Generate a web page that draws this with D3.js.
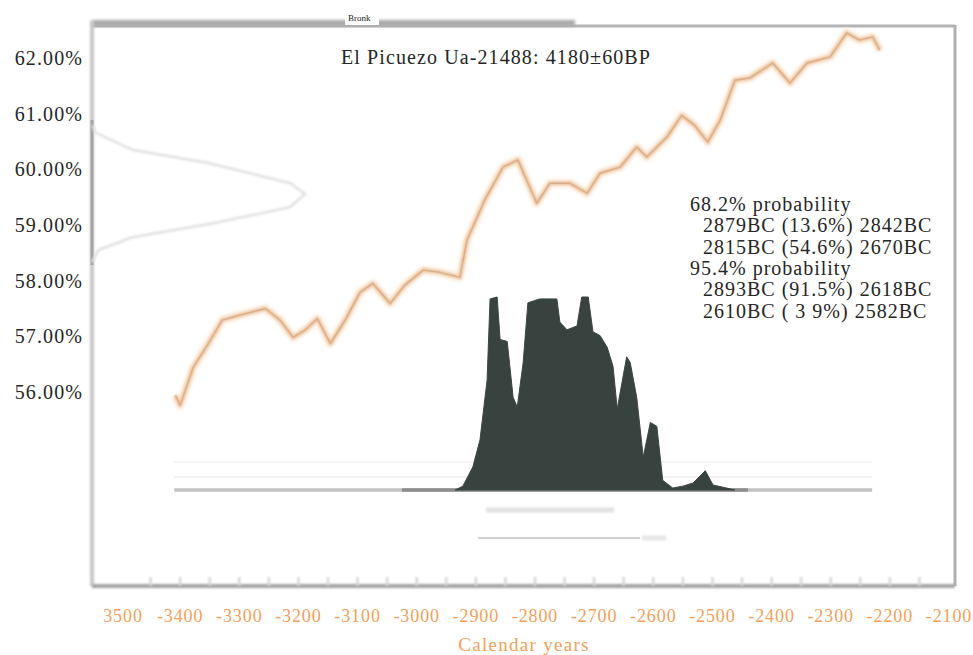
<!DOCTYPE html>
<html><head><meta charset="utf-8">
<script src="https://cdn.jsdelivr.net/npm/d3@7/dist/d3.min.js"></script>
<style>html,body{margin:0;padding:0;background:#fff;}svg{display:block;}</style>
</head><body>
<svg id="chart" width="973" height="655"></svg>
<script>
// ---- data ----
const titleText = "El Picuezo Ua-21488: 4180\u00b160BP";
const yTickValues = [62, 61, 60, 59, 58, 57, 56];
const yTickLabels = ["62.00%", "61.00%", "60.00%", "59.00%", "58.00%", "57.00%", "56.00%"];
const xTickValues = [-3500, -3400, -3300, -3200, -3100, -3000, -2900, -2800, -2700, -2600, -2500, -2400, -2300, -2200, -2100];
const xTickLabels = ["3500", "-3400", "-3300", "-3200", "-3100", "-3000", "-2900", "-2800", "-2700", "-2600", "-2500", "-2400", "-2300", "-2200", "-2100"];
const xAxisTitle = "Calendar years";
const curveYears = [-3408, -3400, -3378, -3354, -3329, -3299, -3256, -3231, -3209, -3189, -3168, -3146, -3121, -3096, -3074, -3045, -3020, -2989, -2961, -2927, -2915, -2885, -2854, -2829, -2797, -2775, -2741, -2712, -2690, -2656, -2628, -2611, -2577, -2552, -2530, -2508, -2487, -2462, -2437, -2398, -2369, -2340, -2301, -2273, -2251, -2229, -2217];
const curveValues = [55.94, 55.76, 56.44, 56.84, 57.29, 57.38, 57.50, 57.29, 56.98, 57.11, 57.32, 56.87, 57.29, 57.79, 57.95, 57.59, 57.92, 58.19, 58.15, 58.06, 58.73, 59.45, 60.04, 60.17, 59.39, 59.75, 59.75, 59.57, 59.93, 60.04, 60.40, 60.22, 60.58, 60.97, 60.79, 60.49, 60.88, 61.60, 61.64, 61.91, 61.55, 61.91, 62.02, 62.45, 62.32, 62.38, 62.14];
const probYears = [-2935, -2922, -2905, -2893, -2881, -2876, -2864, -2859, -2847, -2837, -2830, -2820, -2812, -2792, -2763, -2758, -2746, -2729, -2721, -2710, -2702, -2690, -2678, -2668, -2661, -2645, -2639, -2628, -2617, -2605, -2594, -2584, -2567, -2550, -2533, -2512, -2499, -2476, -2462];
const probValues = [0, 0.02, 0.12, 0.26, 0.57, 0.99, 1.0, 0.78, 0.77, 0.48, 0.43, 0.66, 0.97, 0.99, 0.99, 0.87, 0.83, 0.85, 1.0, 1.0, 0.82, 0.80, 0.74, 0.64, 0.42, 0.69, 0.66, 0.48, 0.17, 0.35, 0.33, 0.05, 0.01, 0.02, 0.036, 0.10, 0.026, 0.01, 0];
const bpLevels = [60.79, 60.65, 60.35, 60.11, 59.75, 59.56, 59.32, 59.03, 58.78, 58.55, 58.33];
const bpDensity = [0, 0.02, 0.19, 0.55, 0.93, 1.0, 0.93, 0.57, 0.19, 0.03, 0];
const rangeLines = ["68.2% probability", "  2879BC (13.6%) 2842BC", "  2815BC (54.6%) 2670BC", "95.4% probability", "  2893BC (91.5%) 2618BC", "  2610BC ( 3 9%) 2582BC"];
const headerNote = "Bronk";

// ---- drawing ----
const svg = d3.select("#chart");
const serif = "'Liberation Serif','DejaVu Serif',serif";
const orange = "#f4a058";
const ink = "#262626";
const frame = {left: 92, top: 21, right: 955, bottom: 586};

const x = d3.scaleLinear().domain([-3500, -2100]).range([121, 949]);
const y = d3.scaleLinear().domain([56, 62]).range([392, 58]);
const yp = d3.scaleLinear().domain([0, 1]).range([490, 297]);
const xd = d3.scaleLinear().domain([0, 1]).range([frame.left, 305]);

const defs = svg.append("defs");
function blur(id, s) {
  defs.append("filter").attr("id", id).attr("filterUnits", "userSpaceOnUse")
    .attr("x", 0).attr("y", 0).attr("width", 973).attr("height", 655)
    .append("feGaussianBlur").attr("stdDeviation", s);
}
blur("soft", 0.9);
blur("soft2", 1.6);

// frame
svg.append("line").attr("x1", frame.left).attr("x2", frame.right).attr("y1", frame.top + 5).attr("y2", frame.top + 5)
  .attr("stroke", "#b4b4b4").attr("stroke-width", 3);
svg.append("line").attr("x1", frame.left).attr("x2", 575).attr("y1", frame.top + 2).attr("y2", frame.top + 2)
  .attr("stroke", "#a8a8a8").attr("stroke-width", 6).attr("filter", "url(#soft2)");
svg.append("line").attr("x1", frame.left).attr("x2", frame.left).attr("y1", frame.top).attr("y2", frame.bottom)
  .attr("stroke", "#c8c8c8").attr("stroke-width", 4).attr("filter", "url(#soft)");
svg.append("line").attr("x1", frame.left).attr("x2", frame.left).attr("y1", 120).attr("y2", 265)
  .attr("stroke", "#a4a4a4").attr("stroke-width", 3);
svg.append("line").attr("x1", frame.right).attr("x2", frame.right).attr("y1", frame.top + 4).attr("y2", frame.bottom)
  .attr("stroke", "#b0b0b0").attr("stroke-width", 3);
svg.append("line").attr("x1", frame.left).attr("x2", frame.right).attr("y1", frame.bottom).attr("y2", frame.bottom)
  .attr("stroke", "#a4a4a4").attr("stroke-width", 4).attr("filter", "url(#soft)");

// bottom minor ticks
const minor = d3.range(-3450, -2100, 50);
svg.append("g").selectAll("line").data(minor).join("line")
  .attr("x1", d => x(d)).attr("x2", d => x(d)).attr("y1", frame.bottom - 9).attr("y2", frame.bottom)
  .attr("stroke", "#d6d6d6").attr("stroke-width", 2.5).attr("filter", "url(#soft)");

// header note
svg.append("rect").attr("x", 345).attr("y", 13).attr("width", 34).attr("height", 12).attr("fill", "#fff");
svg.append("text").attr("x", 348).attr("y", 21).attr("font-family", serif).attr("font-size", 9).attr("fill", "#222").text(headerNote);

// BP distribution on y axis
const bpLine = d3.line().x(d => xd(d[1])).y(d => y(d[0])).curve(d3.curveLinear);
svg.append("path").datum(d3.zip(bpLevels, bpDensity)).attr("d", bpLine)
  .attr("fill", "none").attr("stroke", "#e0e0e0").attr("stroke-width", 2.5).attr("filter", "url(#soft)");

// calibration curve
const cLine = d3.line().x(d => x(d[0])).y(d => y(d[1])).curve(d3.curveLinear);
const cData = d3.zip(curveYears, curveValues);
svg.append("path").datum(cData).attr("d", cLine).attr("fill", "none")
  .attr("stroke", "#fdeee0").attr("stroke-width", 9).attr("stroke-linejoin", "round").attr("filter", "url(#soft2)");
svg.append("path").datum(cData).attr("d", cLine).attr("fill", "none")
  .attr("stroke", "#ebc4a0").attr("stroke-width", 4).attr("stroke-linejoin", "round").attr("filter", "url(#soft)");
svg.append("path").datum(cData).attr("d", cLine).attr("fill", "none")
  .attr("stroke", "#d4a580").attr("stroke-width", 1.4).attr("stroke-linejoin", "round").attr("opacity", 0.7);

// baseline lines
svg.append("line").attr("x1", x(-3410)).attr("x2", x(-2230)).attr("y1", 462).attr("y2", 462).attr("stroke", "#f4f4f4").attr("stroke-width", 2);
svg.append("line").attr("x1", x(-3410)).attr("x2", x(-2230)).attr("y1", 477).attr("y2", 477).attr("stroke", "#f2f2f2").attr("stroke-width", 2);
svg.append("line").attr("x1", x(-3410)).attr("x2", x(-2230)).attr("y1", 490).attr("y2", 490).attr("stroke", "#c2c2c2").attr("stroke-width", 3.5);
svg.append("line").attr("x1", x(-3025)).attr("x2", x(-2440)).attr("y1", 490).attr("y2", 490).attr("stroke", "#8e8e8e").attr("stroke-width", 3.5);

// posterior distribution
const area = d3.area().x(d => x(d[0])).y0(yp(0)).y1(d => yp(d[1])).curve(d3.curveLinear);
svg.append("path").datum(d3.zip(probYears, probValues)).attr("d", area)
  .attr("fill", "#38423f").attr("stroke", "#3b4541").attr("stroke-width", 1);

// faint range bars below
svg.append("line").attr("x1", 486).attr("x2", 614).attr("y1", 510).attr("y2", 510).attr("stroke", "#e2e2e2").attr("stroke-width", 5).attr("filter", "url(#soft)");
svg.append("line").attr("x1", 478).attr("x2", 640).attr("y1", 538).attr("y2", 538).attr("stroke", "#cfcfcf").attr("stroke-width", 2);
svg.append("line").attr("x1", 642).attr("x2", 666).attr("y1", 538).attr("y2", 538).attr("stroke", "#e6e6e6").attr("stroke-width", 5).attr("filter", "url(#soft)");

// y tick labels
svg.append("g").selectAll("text").data(yTickValues).join("text")
  .attr("x", 83).attr("y", d => y(d)).attr("dy", "0.35em").attr("text-anchor", "end")
  .attr("font-family", serif).attr("font-size", 20).attr("letter-spacing", 1.1).attr("fill", ink)
  .text((d, i) => yTickLabels[i]);

// x tick labels
svg.append("g").selectAll("text").data(xTickValues).join("text")
  .attr("x", (d, i) => i === 0 ? x(d) + 2 : x(d)).attr("y", 622).attr("text-anchor", "middle")
  .attr("font-family", serif).attr("font-size", 18).attr("letter-spacing", 0.9).attr("fill", orange)
  .text((d, i) => xTickLabels[i]);

svg.append("text").attr("x", 524).attr("y", 651).attr("text-anchor", "middle")
  .attr("font-family", serif).attr("font-size", 19).attr("letter-spacing", 1.3).attr("fill", orange).text(xAxisTitle);

// title
svg.append("text").attr("x", 496).attr("y", 64).attr("text-anchor", "middle")
  .attr("font-family", serif).attr("font-size", 20).attr("letter-spacing", 1.1).attr("fill", ink).text(titleText);

// ranges text
svg.append("g").selectAll("text").data(rangeLines).join("text")
  .attr("x", d => d.startsWith("  ") ? 703 : 690).attr("y", (d, i) => 211 + i * 21.3)
  .attr("font-family", serif).attr("font-size", 20).attr("letter-spacing", 1.0).attr("fill", ink)
  .text(d => d.trim());
</script>
</body></html>
